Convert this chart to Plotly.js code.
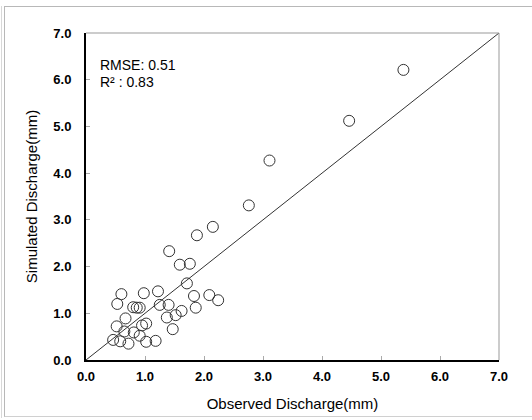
<!DOCTYPE html>
<html>
<head>
<meta charset="utf-8">
<script src="https://cdn.plot.ly/plotly-3.0.1.min.js"></script>
<style>
html,body{margin:0;padding:0;background:#fff;}
#wrap{position:relative;width:532px;height:420px;overflow:hidden;}
#frame{position:absolute;left:4px;top:6px;width:540px;height:411px;border-top:1px solid #b8b8b8;border-left:1px solid #b8b8b8;border-bottom:1px solid #d0d0d0;box-sizing:border-box;pointer-events:none;}
#frame2{position:absolute;left:1px;top:6px;width:1px;height:412px;background:#d8d8d8;}
#chart{position:absolute;left:0;top:0;width:532px;height:420px;}
</style>
</head>
<body>
<div id="wrap">
<div id="frame2"></div>
<div id="frame"></div>
<div id="chart"></div>
</div>
<script>
const observed = [5.38,4.46,3.11,2.76,2.15,1.88,1.41,1.59,1.76,1.71,0.60,0.98,1.22,1.83,2.09,2.24,0.53,0.80,0.86,0.91,1.25,1.40,1.86,1.62,1.52,1.37,0.67,1.02,0.95,0.52,1.47,0.65,0.81,0.91,0.46,0.58,0.72,1.02,1.18];
const simulated = [6.21,5.12,4.27,3.31,2.85,2.67,2.33,2.04,2.06,1.64,1.41,1.43,1.47,1.37,1.39,1.28,1.20,1.13,1.12,1.12,1.18,1.18,1.12,1.05,0.96,0.91,0.89,0.78,0.74,0.72,0.66,0.61,0.59,0.52,0.43,0.40,0.35,0.39,0.41];
const lineX = [0,7];
const lineY = [0,7];
const tickVals = [0,1,2,3,4,5,6,7];
const tickText = ["0.0","1.0","2.0","3.0","4.0","5.0","6.0","7.0"];
const statsText = ["RMSE: 0.51","R\u00b2 : 0.83"];

const font = "Liberation Sans, Arial, sans-serif";
const traces = [
  {x: lineX, y: lineY, mode: "lines", line: {color: "#333", width: 1}, hoverinfo: "skip", showlegend: false},
  {x: observed, y: simulated, mode: "markers", showlegend: false,
   marker: {symbol: "circle-open", size: 11, color: "#333", line: {width: 1, color: "#333"}}}
];
const axisCommon = {
  range: [0,7], tickvals: tickVals, ticktext: tickText, showgrid: false, zeroline: false,
  showline: true, linecolor: "#000", linewidth: 2, ticks: "inside", ticklen: 4, tickcolor: "#aaa", tickwidth: 1,
  tickfont: {family: font, size: 13, color: "#000", weight: "bold"}
};
const layout = {
  width: 532, height: 420,
  margin: {l: 86, r: 33, t: 33, b: 60},
  paper_bgcolor: "rgba(0,0,0,0)", plot_bgcolor: "#fff",
  xaxis: Object.assign({}, axisCommon, {
    ticklabelstandoff: 3,
    title: {text: "Observed Discharge(mm)", font: {family: font, size: 15, color: "#000"}, standoff: 16}
  }),
  yaxis: Object.assign({}, axisCommon, {
    ticklabelstandoff: 10,
    title: {text: "Simulated Discharge(mm)", font: {family: font, size: 15, color: "#000"}, standoff: 12}
  }),
  shapes: [
    {type: "line", xref: "paper", yref: "paper", x0: 0, x1: 1, y0: 1, y1: 1, line: {color: "#999", width: 1}},
    {type: "line", xref: "paper", yref: "paper", x0: 1, x1: 1, y0: 0, y1: 1, line: {color: "#999", width: 1}}
  ],
  annotations: [
    {xref: "paper", yref: "paper", x: 0.03, y: 0.902, xanchor: "left", yanchor: "middle", showarrow: false,
     text: statsText[0], font: {family: font, size: 14, color: "#000"}},
    {xref: "paper", yref: "paper", x: 0.03, y: 0.851, xanchor: "left", yanchor: "middle", showarrow: false,
     text: statsText[1], font: {family: font, size: 14, color: "#000"}}
  ]
};
Plotly.newPlot("chart", traces, layout, {displayModeBar: false, staticPlot: true});
</script>
</body>
</html>
